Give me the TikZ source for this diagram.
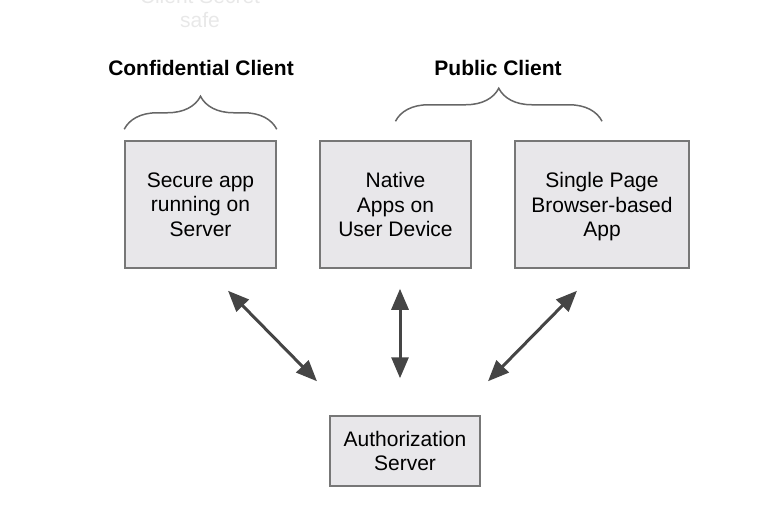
\documentclass[tikz,border=0pt]{standalone}
\usepackage{fontspec}
\setmainfont{Liberation Sans}
\usepackage{xcolor}
\usepackage{tikz}
\usetikzlibrary{arrows.meta}
\usetikzlibrary{decorations.pathreplacing}
\definecolor{boxfill}{HTML}{E8E7EA}
\definecolor{boxline}{HTML}{777777}
\definecolor{arrowgray}{HTML}{454545}
\definecolor{bracegray}{HTML}{666666}
\tikzstyle{client} = [rectangle, minimum width=151pt, minimum height=127pt, align=center, draw=boxline, line width=1.5pt, fill=boxfill, font=\fontsize{21}{24.5}\selectfont]
\tikzstyle{label} = [align=center, font=\fontsize{21}{24.5}\selectfont\bfseries]
\tikzstyle{brace} = [decorate, decoration={brace, amplitude=33pt}, draw=bracegray, line width=1.5pt]
\tikzstyle{arrow} = [line width=3pt, draw=arrowgray, {Triangle[length=21pt,width=17pt]}-{Triangle[length=21pt,width=17pt]}]

\begin{document}
\begin{tikzpicture}[x=1pt, y=-1pt, node distance=195pt]
\useasboundingbox (0,0) rectangle (776,507);
\node (note) [align=center, text=gray!18, font=\fontsize{21}{24.5}\selectfont] at (200,8) {Client Secret\\safe};

\node (cli1) [client] at (200.5,204.5) {Secure app\\running on\\Server};
\node (cli2) [client, right of=cli1] {Native\\Apps on\\User Device};
\node (cli3) [client, minimum width=174pt, right of=cli2, xshift=11.5pt] {Single Page\\Browser-based\\\smash{App}};
\node (auth) [client, minimum width=150pt, minimum height=70pt, below of=cli2, xshift=9.5pt, yshift=-51.5pt] {Authorization\\Server};

\node (lab1) [label] at (201,68) {Confidential Client};
\node (lab2) [label] at (498,68) {Public Client};

\draw [brace] ([yshift=11pt]cli1.north west) -- ([yshift=11pt]cli1.north east);
\draw [brace] ([yshift=19pt]cli2.north) -- ([yshift=19pt]cli3.north);

\draw [arrow] ([shift={(27.5,22)}]cli1.south) -- ([shift={(-88,-34)}]auth.north);
\draw [arrow] ([shift={(4.5,20)}]cli2.south) -- ([shift={(-5,-37)}]auth.north);
\draw [arrow] ([shift={(-25,22)}]cli3.south) -- ([shift={(83,-34)}]auth.north);

\end{tikzpicture}
\end{document}
